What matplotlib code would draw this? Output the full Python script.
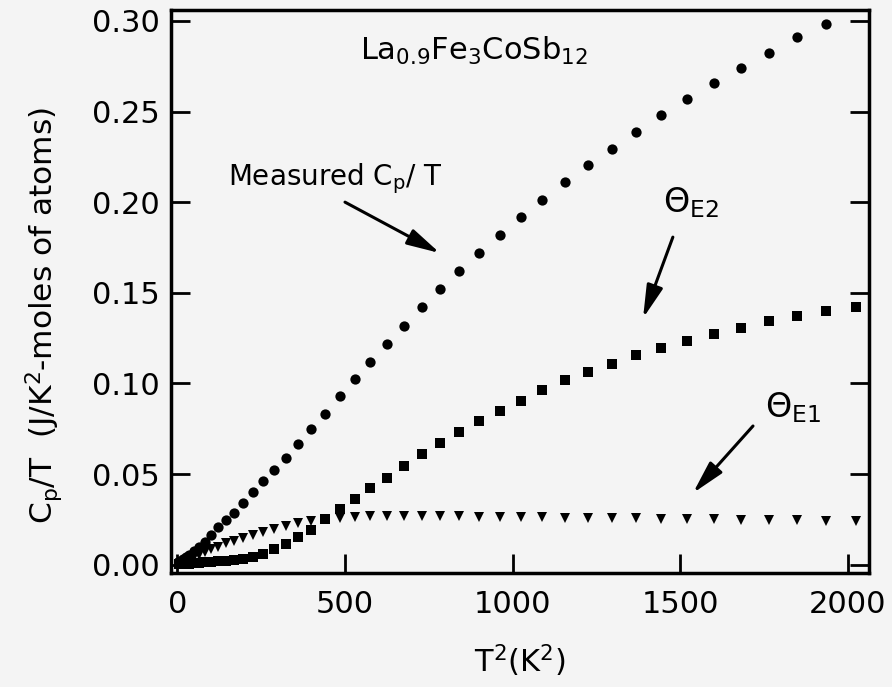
import matplotlib
matplotlib.use("Agg")
import matplotlib.pyplot as plt

plt.rcParams['font.family'] = ['DejaVu Sans']
plt.rcParams['mathtext.default'] = 'regular'

# T^2 values (K^2) for T = 2 ... 45 K
t2 = [4, 9, 16, 25, 36, 49, 64, 81, 100, 121, 144, 169, 196, 225, 256, 289,
      324, 361, 400, 441, 484, 529, 576, 625, 676, 729, 784, 841, 900, 961,
      1024, 1089, 1156, 1225, 1296, 1369, 1444, 1521, 1600, 1681, 1764, 1849,
      1936, 2025]

# Measured Cp/T (T = 2 ... 44 K)
measured = [0.0015, 0.0022, 0.003, 0.004, 0.0055, 0.0075, 0.0098, 0.0125,
            0.0163, 0.0208, 0.0248, 0.0285, 0.034, 0.040, 0.046, 0.052, 0.059,
            0.0667, 0.075, 0.0833, 0.0933, 0.1026, 0.112, 0.122, 0.1318,
            0.1422, 0.1522, 0.1621, 0.172, 0.182, 0.192, 0.2013, 0.211, 0.2203,
            0.2293, 0.2388, 0.248, 0.257, 0.266, 0.274, 0.2825, 0.291, 0.2985]

# Einstein contribution Theta_E2 (squares)
theta_e2 = [0.0003, 0.0003, 0.0004, 0.0005, 0.0006, 0.0008, 0.001, 0.0012,
            0.0015, 0.0018, 0.0022, 0.0027, 0.0033, 0.004, 0.0058, 0.0085,
            0.0113, 0.0152, 0.0192, 0.0252, 0.0307, 0.0362, 0.0423, 0.0479,
            0.0544, 0.061, 0.067, 0.073, 0.079, 0.0846, 0.0905, 0.0963, 0.1017,
            0.1063, 0.1108, 0.1157, 0.1196, 0.1236, 0.1275, 0.1308, 0.1345,
            0.1374, 0.1397, 0.142]

# Einstein contribution Theta_E1 (triangles)
theta_e1 = [0.0005, 0.001, 0.0015, 0.0022, 0.003, 0.004, 0.0055, 0.007,
            0.0085, 0.01, 0.0118, 0.0133, 0.0148, 0.0163, 0.0182, 0.0198,
            0.0215, 0.0228, 0.024, 0.025, 0.026, 0.0265, 0.0268, 0.0269,
            0.0269, 0.0268, 0.0267, 0.0266, 0.0265, 0.0264, 0.0263, 0.0262,
            0.026, 0.0259, 0.0257, 0.0256, 0.0254, 0.0252, 0.025, 0.0248,
            0.0246, 0.0244, 0.0242, 0.024]

x_ticks = [0, 500, 1000, 1500, 2000]
y_ticks = [0.00, 0.05, 0.10, 0.15, 0.20, 0.25, 0.30]

bg = '#f4f4f4'
fig = plt.figure(figsize=(8.92, 6.87), dpi=100, facecolor=bg)
ax = fig.add_axes([171 / 892, 1 - 573 / 687, 698 / 892, 563 / 687])
ax.set_facecolor(bg)

ax.plot(t2[:len(measured)], measured, 'o', color='k', ms=7.4, mew=0)
ax.plot(t2, theta_e2, 's', color='k', ms=6.6, mew=0)
ax.plot(t2, theta_e1, 'v', color='k', ms=7.8, mew=0)

ax.set_xlim(-19, 2063)
ax.set_ylim(-0.0046, 0.306)
ax.set_xticks(x_ticks)
ax.set_xticklabels([str(v) for v in x_ticks])
ax.set_yticks(y_ticks)
ax.set_yticklabels(['%.2f' % v for v in y_ticks])

for s in ax.spines.values():
    s.set_linewidth(2.5)
ax.tick_params(axis='both', direction='in', length=14, width=2,
               labelsize=22, colors='k')
ax.tick_params(axis='y', right=True, pad=8)
ax.tick_params(axis='x', top=False, pad=12)

ax.set_xlabel(r'T$^2$(K$^2$)', fontsize=22, labelpad=17)
fig.text(44 / 892, 1 - 315 / 687, r'C$_p$/T  (J/K$^2$-moles of atoms)',
         rotation=90, ha='center', va='center', fontsize=22.5)

ax.text(545, 0.2784, r'La$_{0.9}$Fe$_3$CoSb$_{12}$', fontsize=22,
        ha='left', va='baseline')
ax.text(151, 0.2094, r'Measured C$_p$/ T', fontsize=20,
        ha='left', va='baseline')
ax.text(1448, 0.1944, r'$\Theta_{E2}$', fontsize=24,
        ha='left', va='baseline')
ax.text(1753, 0.0815, r'$\Theta_{E1}$', fontsize=24,
        ha='left', va='baseline')

arrow = dict(arrowstyle='-|>,head_length=1.0,head_width=0.25',
             mutation_scale=20, lw=2.2, color='k', shrinkA=0, shrinkB=0)
ax.annotate('', xy=(783, 0.1719), xytext=(500, 0.200), arrowprops=arrow)
ax.annotate('', xy=(1389, 0.136), xytext=(1478, 0.1807), arrowprops=arrow)
ax.annotate('', xy=(1538, 0.0395), xytext=(1717, 0.0765), arrowprops=arrow)

fig.savefig('out.png', dpi=100, facecolor=bg)
